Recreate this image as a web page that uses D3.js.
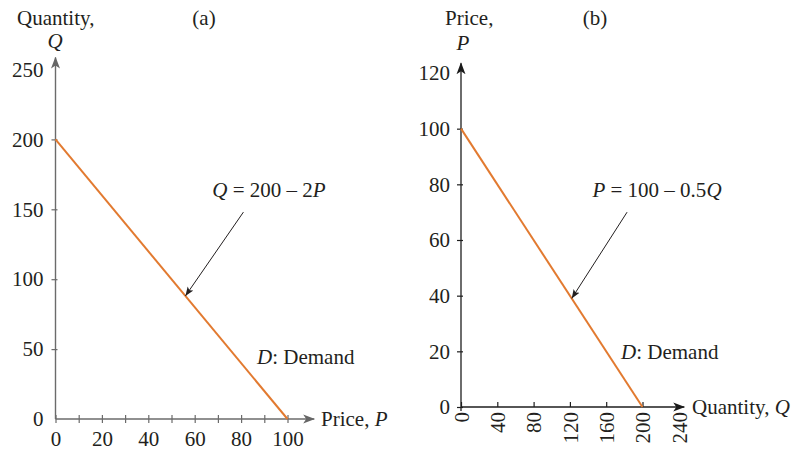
<!DOCTYPE html>
<html>
<head>
<meta charset="utf-8">
<script src="https://cdn.jsdelivr.net/npm/d3@7"></script>
<style>
  body { margin: 0; background: #fff; }
  svg text { font-family: "Liberation Serif", "Times New Roman", serif; font-size: 21px; fill: #231f20; }
</style>
</head>
<body>
<svg id="chart" width="791" height="451"></svg>
<script>
// panel (a): Q = 200 - 2P, price on x, quantity on y
const priceTicksA = [0, 10, 20, 30, 40, 50, 60, 70, 80, 90, 100];
const priceLabelsA = [0, 20, 40, 60, 80, 100];
const qtyTicksA = [0, 50, 100, 150, 200, 250];
const demandA = [{p: 0, q: 200}, {p: 100, q: 0}];
const arrowA = [{p: 81, q: 148}, {p: 56, q: 88}]; // tail, head

// panel (b): P = 100 - 0.5Q, quantity on x, price on y
const qtyTicksB = [0, 40, 80, 120, 160, 200, 240];
const priceTicksB = [0, 20, 40, 60, 80, 100, 120];
const demandB = [{q: 0, p: 100}, {q: 200, p: 0}];
const arrowB = [{q: 183, p: 70}, {q: 122, p: 39}];

const orange = "#e27a30";
const fs = "21px";
const svg = d3.select("#chart");
const defs = svg.append("defs");

function axisHead(id, color) {
  defs.append("marker")
    .attr("id", id)
    .attr("viewBox", "0 -5 12 10")
    .attr("refX", 11).attr("refY", 0)
    .attr("markerUnits", "userSpaceOnUse")
    .attr("markerWidth", 12).attr("markerHeight", 10)
    .attr("orient", "auto")
    .append("path")
    .attr("d", "M0,-4.5 L12,0 L0,4.5 L3,0 Z")
    .attr("fill", color);
}
axisHead("headA", "#666");
axisHead("headB", "#1a1a1a");
defs.append("marker")
  .attr("id", "small")
  .attr("viewBox", "0 -4 9 8")
  .attr("refX", 9).attr("refY", 0)
  .attr("markerUnits", "userSpaceOnUse")
  .attr("markerWidth", 9).attr("markerHeight", 8)
  .attr("orient", "auto")
  .append("path")
  .attr("d", "M0,-3.5 L9,0 L0,3.5 L2,0 Z")
  .attr("fill", "#231f20");

// ---------- panel (a)
const xA = d3.scaleLinear().domain([0, 100]).range([55.5, 287.5]);
const yA = d3.scaleLinear().domain([0, 250]).range([419, 69.5]);
const gA = svg.append("g");
const axisColA = "#6b6b6b";

// x axis
gA.append("line")
  .attr("x1", xA(0)).attr("x2", xA(111.5))
  .attr("y1", yA(0)).attr("y2", yA(0))
  .attr("stroke", axisColA).attr("stroke-width", 1.4)
  .attr("marker-end", "url(#headA)");
const xAxisA = gA.append("g")
  .attr("transform", `translate(0,${yA(0)})`)
  .call(d3.axisBottom(xA).tickValues(priceTicksA).tickSize(4)
    .tickFormat(d => priceLabelsA.includes(d) ? d : ""));
xAxisA.select(".domain").remove();
xAxisA.selectAll(".tick line").attr("y1", -4).attr("y2", 4).attr("stroke", axisColA).attr("stroke-width", 1.2);
xAxisA.selectAll(".tick text").attr("y", 12).attr("dy", "0.71em").style("font-size", fs).attr("fill", "#231f20");

// y axis
gA.append("line")
  .attr("x1", xA(0)).attr("x2", xA(0))
  .attr("y1", yA(0)).attr("y2", yA(258.5))
  .attr("stroke", axisColA).attr("stroke-width", 1.4)
  .attr("marker-end", "url(#headA)");
const yAxisA = gA.append("g")
  .attr("transform", `translate(${xA(0)},0)`)
  .call(d3.axisLeft(yA).tickValues(qtyTicksA).tickSize(4));
yAxisA.select(".domain").remove();
yAxisA.selectAll(".tick line").attr("x1", -4).attr("x2", 2).attr("stroke", axisColA).attr("stroke-width", 1.2)
  .filter(d => d === 250 || d === 0).remove();
yAxisA.selectAll(".tick text").attr("x", -12).style("font-size", fs).attr("fill", "#231f20");

// demand line
const lineA = d3.line().x(d => xA(d.p)).y(d => yA(d.q));
gA.append("path").datum(demandA).attr("d", lineA)
  .attr("fill", "none").attr("stroke", orange).attr("stroke-width", 2);

gA.append("line")
  .attr("x1", xA(arrowA[0].p)).attr("y1", yA(arrowA[0].q))
  .attr("x2", xA(arrowA[1].p)).attr("y2", yA(arrowA[1].q))
  .attr("stroke", "#231f20").attr("stroke-width", 1)
  .attr("marker-end", "url(#small)");

// labels
gA.append("text").attr("x", 17).attr("y", 25).text("Quantity,");
gA.append("text").attr("x", 55).attr("y", 48).attr("text-anchor", "middle")
  .style("font-style", "italic").text("Q");
gA.append("text").attr("x", 204).attr("y", 25).attr("text-anchor", "middle").text("(a)");
const pa = gA.append("text").attr("x", 321).attr("y", 426);
pa.append("tspan").text("Price, ");
pa.append("tspan").style("font-style", "italic").text("P");
const ea = gA.append("text").attr("x", 269).attr("y", 197).attr("text-anchor", "middle");
ea.append("tspan").style("font-style", "italic").text("Q");
ea.append("tspan").text(" = 200 \u2013 2");
ea.append("tspan").style("font-style", "italic").text("P");
const da = gA.append("text").attr("x", 257).attr("y", 364);
da.append("tspan").style("font-style", "italic").text("D");
da.append("tspan").text(": Demand");

// ---------- panel (b)
const xB = d3.scaleLinear().domain([0, 240]).range([461, 678.8]);
const yB = d3.scaleLinear().domain([0, 120]).range([407, 73]);
const gB = svg.append("g");
const axisColB = "#1e1e1e";

gB.append("line")
  .attr("x1", xB(0)).attr("x2", xB(246))
  .attr("y1", yB(0)).attr("y2", yB(0))
  .attr("stroke", axisColB).attr("stroke-width", 1.3)
  .attr("marker-end", "url(#headB)");
const xAxisB = gB.append("g")
  .attr("transform", `translate(0,${yB(0)})`)
  .call(d3.axisBottom(xB).tickValues(qtyTicksB).tickSize(4));
xAxisB.select(".domain").remove();
xAxisB.selectAll(".tick line").attr("y1", -5).attr("y2", 0).attr("stroke", axisColB).attr("stroke-width", 1.2)
  .filter(d => d === 240).remove();
xAxisB.selectAll(".tick text")
  .attr("transform", "rotate(-90)")
  .attr("x", -5).attr("y", 0).attr("dy", "0.35em")
  .attr("text-anchor", "end")
  .style("font-size", fs).attr("fill", "#231f20");

gB.append("line")
  .attr("x1", xB(0)).attr("x2", xB(0))
  .attr("y1", yB(0) + 4).attr("y2", yB(123.5))
  .attr("stroke", axisColB).attr("stroke-width", 1.3)
  .attr("marker-end", "url(#headB)");
const yAxisB = gB.append("g")
  .attr("transform", `translate(${xB(0)},0)`)
  .call(d3.axisLeft(yB).tickValues(priceTicksB).tickSize(4));
yAxisB.select(".domain").remove();
yAxisB.selectAll(".tick line").attr("x1", -4).attr("x2", 2).attr("stroke", axisColB).attr("stroke-width", 1.2)
  .filter(d => d === 120).remove();
yAxisB.selectAll(".tick text").attr("x", -11).style("font-size", fs).attr("fill", "#231f20");

const lineB = d3.line().x(d => xB(d.q)).y(d => yB(d.p));
gB.append("path").datum(demandB).attr("d", lineB)
  .attr("fill", "none").attr("stroke", orange).attr("stroke-width", 2);

gB.append("line")
  .attr("x1", xB(arrowB[0].q)).attr("y1", yB(arrowB[0].p))
  .attr("x2", xB(arrowB[1].q)).attr("y2", yB(arrowB[1].p))
  .attr("stroke", "#231f20").attr("stroke-width", 1)
  .attr("marker-end", "url(#small)");

gB.append("text").attr("x", 445).attr("y", 25).text("Price,");
gB.append("text").attr("x", 463).attr("y", 50).attr("text-anchor", "middle")
  .style("font-style", "italic").text("P");
gB.append("text").attr("x", 595).attr("y", 25).attr("text-anchor", "middle").text("(b)");
const qb = gB.append("text").attr("x", 692).attr("y", 414);
qb.append("tspan").text("Quantity, ");
qb.append("tspan").style("font-style", "italic").text("Q");
const eb = gB.append("text").attr("x", 657).attr("y", 197).attr("text-anchor", "middle");
eb.append("tspan").style("font-style", "italic").text("P");
eb.append("tspan").text(" = 100 \u2013 0.5");
eb.append("tspan").style("font-style", "italic").text("Q");
const db = gB.append("text").attr("x", 621).attr("y", 359);
db.append("tspan").style("font-style", "italic").text("D");
db.append("tspan").text(": Demand");
</script>
</body>
</html>
